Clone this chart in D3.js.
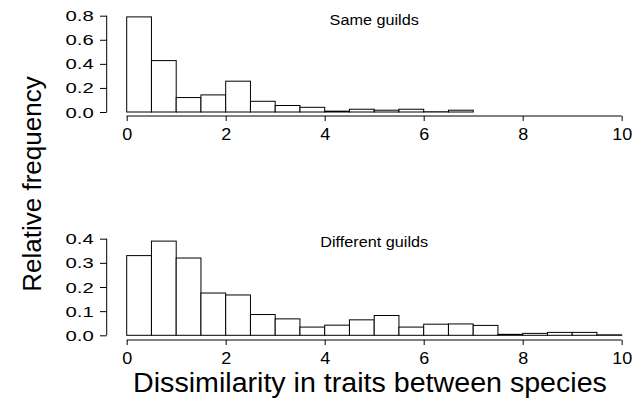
<!DOCTYPE html>
<html><head><meta charset="utf-8">
<script src="https://cdn.jsdelivr.net/npm/d3@7"></script>
<style>body{margin:0;background:#fff}svg{display:block}text{font-family:"Liberation Sans",Arial,Helvetica,sans-serif;fill:#000}</style>
</head><body>
<script>
const binWidth = 0.5;
const sameGuilds = [0.79, 0.427, 0.12, 0.142, 0.256, 0.089, 0.054, 0.039, 0.007, 0.023, 0.015, 0.023, 0.002, 0.015];
const differentGuilds = [0.33, 0.39, 0.32, 0.175, 0.167, 0.086, 0.068, 0.034, 0.042, 0.064, 0.082, 0.034, 0.046, 0.047, 0.041, 0.004, 0.008, 0.012, 0.012, 0.002];
const xTicks = [0, 2, 4, 6, 8, 10];
const yTicksTop = [0.0, 0.2, 0.4, 0.6, 0.8];
const yTicksBottom = [0.0, 0.1, 0.2, 0.3, 0.4];
const panelTitles = ["Same guilds", "Different guilds"];
const xTitle = "Dissimilarity in traits between species";
const yTitle = "Relative frequency";

const W = 640, H = 407;
const svg = d3.select("body").append("svg").attr("width", W).attr("height", H);
const x = d3.scaleLinear().domain([0, 10]).range([126.7, 621.7]);

function panel(values, yTicks, yMax, yRange, axisY, titleY, title) {
  const y = d3.scaleLinear().domain([0, yMax]).range(yRange);
  const g = svg.append("g");
  g.selectAll("rect").data(values).join("rect")
    .attr("x", (d, i) => x(i * binWidth))
    .attr("width", x(binWidth) - x(0))
    .attr("y", d => y(d))
    .attr("height", d => y(0) - y(d))
    .attr("fill", "#fff").attr("stroke", "#000").attr("stroke-width", 1);
  // y axis
  const ya = g.append("g").attr("transform", "translate(106.7,0)")
    .call(d3.axisLeft(y).tickValues(yTicks).tickFormat(d3.format(".1f")).tickSize(6.7).tickSizeOuter(0));
  ya.select(".domain").attr("stroke", "#000").attr("d", `M0,${y(0)}V${y(yMax)}`);
  ya.selectAll(".tick line").attr("stroke", "#000");
  const syt = 1.45;
  ya.selectAll(".tick text").attr("font-size", 14).attr("font-family", null)
    .attr("x", -13 / syt).attr("dy", "0.36em").attr("transform", `scale(${syt},1)`);
  // x axis
  const xa = g.append("g").attr("transform", `translate(0,${axisY})`)
    .call(d3.axisBottom(x).tickValues(xTicks).tickFormat(d3.format("d")).tickSize(5).tickSizeOuter(0));
  xa.select(".domain").attr("stroke", "#000").attr("d", `M${x(0)},0H${x(10)}`);
  xa.selectAll(".tick line").attr("stroke", "#000");
  const sxt = 1.06;
  xa.selectAll(".tick text").attr("font-size", 17).attr("font-family", null)
    .attr("y", 24.5).attr("dy", null).attr("transform", `scale(${sxt},1)`);
  // panel title
  g.append("text").attr("text-anchor", "middle").attr("font-size", 14.5)
    .attr("transform", `translate(${x(5)},${titleY}) scale(1.12,1)`).text(title);
}

panel(sameGuilds, yTicksTop, 0.8, [112, 15.7], 116, 25, panelTitles[0]);
panel(differentGuilds, yTicksBottom, 0.4, [335.3, 238.7], 340, 247, panelTitles[1]);

svg.append("text").attr("text-anchor", "middle").attr("font-size", 27)
  .attr("transform", `translate(370,392) scale(1.06,1)`).text(xTitle);
svg.append("text").attr("text-anchor", "middle").attr("font-size", 26)
  .attr("transform", `translate(41,184) rotate(-90)`).text(yTitle);
</script>
</body></html>
